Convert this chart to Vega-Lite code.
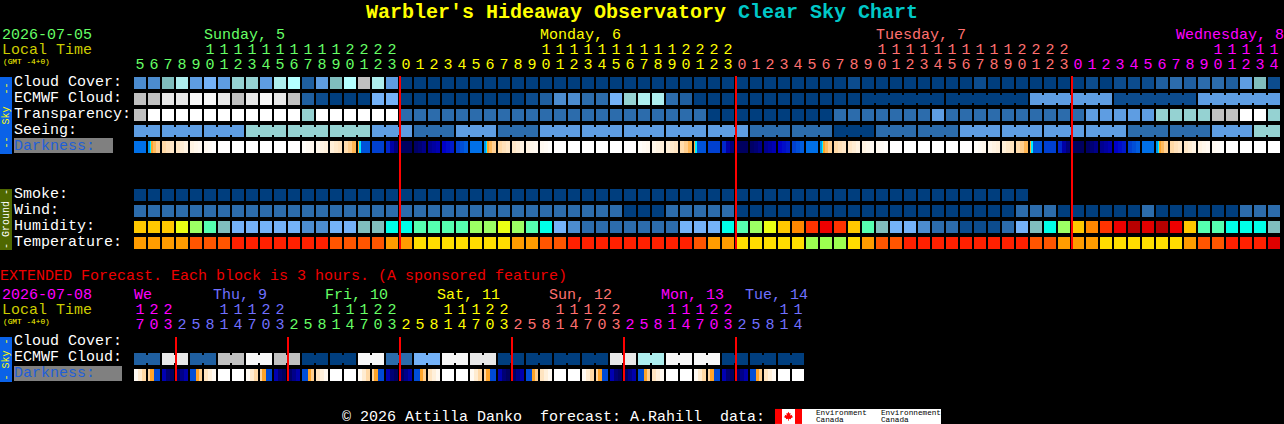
{"$schema":"https://vega.github.io/schema/vega-lite/v6.json","autosize":{"type":"none","contains":"padding"},"padding":0,"width":1284,"height":424,"background":"#000000","config":{"view":{"stroke":null},"axis":{"disable":true},"legend":{"disable":true}},
"datasets":{
"cells":[
{"h":0,"row":0,"lv":"e"},{"h":1,"row":0,"lv":"e"},{"h":2,"row":0,"lv":"h"},{"h":3,"row":0,"lv":"j"},{"h":4,"row":0,"lv":"f"},{"h":5,"row":0,"lv":"g"},{"h":6,"row":0,"lv":"f"},{"h":7,"row":0,"lv":"i"},{"h":8,"row":0,"lv":"i"},{"h":9,"row":0,"lv":"f"},{"h":10,"row":0,"lv":"j"},{"h":11,"row":0,"lv":"k"},{"h":12,"row":0,"lv":"c"},{"h":13,"row":0,"lv":"f"},{"h":14,"row":0,"lv":"h"},{"h":15,"row":0,"lv":"k"},{"h":16,"row":0,"lv":"l"},{"h":17,"row":0,"lv":"j"},{"h":18,"row":0,"lv":"f"},{"h":19,"row":0,"lv":"a"},{"h":20,"row":0,"lv":"a"},{"h":21,"row":0,"lv":"a"},{"h":22,"row":0,"lv":"a"},{"h":23,"row":0,"lv":"a"},{"h":24,"row":0,"lv":"a"},{"h":25,"row":0,"lv":"a"},{"h":26,"row":0,"lv":"a"},{"h":27,"row":0,"lv":"a"},{"h":28,"row":0,"lv":"a"},{"h":29,"row":0,"lv":"a"},{"h":30,"row":0,"lv":"a"},{"h":31,"row":0,"lv":"a"},{"h":32,"row":0,"lv":"a"},{"h":33,"row":0,"lv":"a"},{"h":34,"row":0,"lv":"a"},{"h":35,"row":0,"lv":"a"},{"h":36,"row":0,"lv":"a"},{"h":37,"row":0,"lv":"a"},{"h":38,"row":0,"lv":"a"},{"h":39,"row":0,"lv":"a"},{"h":40,"row":0,"lv":"a"},{"h":41,"row":0,"lv":"a"},{"h":42,"row":0,"lv":"a"},{"h":43,"row":0,"lv":"a"},{"h":44,"row":0,"lv":"a"},{"h":45,"row":0,"lv":"a"},{"h":46,"row":0,"lv":"a"},{"h":47,"row":0,"lv":"a"},{"h":48,"row":0,"lv":"a"},{"h":49,"row":0,"lv":"a"},{"h":50,"row":0,"lv":"a"},{"h":51,"row":0,"lv":"b"},{"h":52,"row":0,"lv":"a"},{"h":53,"row":0,"lv":"a"},{"h":54,"row":0,"lv":"a"},{"h":55,"row":0,"lv":"a"},{"h":56,"row":0,"lv":"a"},{"h":57,"row":0,"lv":"a"},{"h":58,"row":0,"lv":"a"},{"h":59,"row":0,"lv":"a"},{"h":60,"row":0,"lv":"b"},{"h":61,"row":0,"lv":"a"},{"h":62,"row":0,"lv":"a"},{"h":63,"row":0,"lv":"a"},{"h":64,"row":0,"lv":"a"},{"h":65,"row":0,"lv":"a"},{"h":66,"row":0,"lv":"a"},{"h":67,"row":0,"lv":"a"},{"h":68,"row":0,"lv":"b"},{"h":69,"row":0,"lv":"a"},{"h":70,"row":0,"lv":"b"},{"h":71,"row":0,"lv":"b"},{"h":72,"row":0,"lv":"b"},{"h":73,"row":0,"lv":"c"},{"h":74,"row":0,"lv":"d"},{"h":75,"row":0,"lv":"c"},{"h":76,"row":0,"lv":"d"},{"h":77,"row":0,"lv":"d"},{"h":78,"row":0,"lv":"c"},{"h":79,"row":0,"lv":"f"},{"h":80,"row":0,"lv":"h"},{"h":81,"row":0,"lv":"b"},
{"h":0,"row":1,"lv":"l"},{"h":1,"row":1,"lv":"l"},{"h":2,"row":1,"lv":"m"},{"h":3,"row":1,"lv":"m"},{"h":4,"row":1,"lv":"n"},{"h":5,"row":1,"lv":"n"},{"h":6,"row":1,"lv":"m"},{"h":7,"row":1,"lv":"l"},{"h":8,"row":1,"lv":"m"},{"h":9,"row":1,"lv":"n"},{"h":10,"row":1,"lv":"m"},{"h":11,"row":1,"lv":"l"},{"h":12,"row":1,"lv":"c"},{"h":13,"row":1,"lv":"b"},{"h":14,"row":1,"lv":"a"},{"h":15,"row":1,"lv":"a"},{"h":16,"row":1,"lv":"a"},{"h":17,"row":1,"lv":"g"},{"h":18,"row":1,"lv":"g"},{"h":19,"row":1,"lv":"a"},{"h":20,"row":1,"lv":"a"},{"h":21,"row":1,"lv":"a"},{"h":22,"row":1,"lv":"a"},{"h":23,"row":1,"lv":"a"},{"h":24,"row":1,"lv":"a"},{"h":25,"row":1,"lv":"a"},{"h":26,"row":1,"lv":"a"},{"h":27,"row":1,"lv":"a"},{"h":28,"row":1,"lv":"b"},{"h":29,"row":1,"lv":"c"},{"h":30,"row":1,"lv":"e"},{"h":31,"row":1,"lv":"e"},{"h":32,"row":1,"lv":"d"},{"h":33,"row":1,"lv":"d"},{"h":34,"row":1,"lv":"g"},{"h":35,"row":1,"lv":"i"},{"h":36,"row":1,"lv":"j"},{"h":37,"row":1,"lv":"j"},{"h":38,"row":1,"lv":"d"},{"h":39,"row":1,"lv":"c"},{"h":40,"row":1,"lv":"a"},{"h":41,"row":1,"lv":"a"},{"h":42,"row":1,"lv":"a"},{"h":43,"row":1,"lv":"a"},{"h":44,"row":1,"lv":"a"},{"h":45,"row":1,"lv":"a"},{"h":46,"row":1,"lv":"a"},{"h":47,"row":1,"lv":"a"},{"h":48,"row":1,"lv":"a"},{"h":49,"row":1,"lv":"a"},{"h":50,"row":1,"lv":"a"},{"h":51,"row":1,"lv":"a"},{"h":52,"row":1,"lv":"a"},{"h":53,"row":1,"lv":"a"},{"h":54,"row":1,"lv":"a"},{"h":55,"row":1,"lv":"a"},{"h":56,"row":1,"lv":"a"},{"h":57,"row":1,"lv":"a"},{"h":58,"row":1,"lv":"a"},{"h":59,"row":1,"lv":"a"},{"h":60,"row":1,"lv":"a"},{"h":61,"row":1,"lv":"a"},{"h":62,"row":1,"lv":"a"},{"h":63,"row":1,"lv":"a"},{"h":64,"row":1,"lv":"f"},{"h":65,"row":1,"lv":"f"},{"h":66,"row":1,"lv":"f"},{"h":67,"row":1,"lv":"f"},{"h":68,"row":1,"lv":"f"},{"h":69,"row":1,"lv":"f"},{"h":70,"row":1,"lv":"b"},{"h":71,"row":1,"lv":"b"},{"h":72,"row":1,"lv":"b"},{"h":73,"row":1,"lv":"b"},{"h":74,"row":1,"lv":"b"},{"h":75,"row":1,"lv":"b"},{"h":76,"row":1,"lv":"f"},{"h":77,"row":1,"lv":"f"},{"h":78,"row":1,"lv":"f"},{"h":79,"row":1,"lv":"f"},{"h":80,"row":1,"lv":"f"},{"h":81,"row":1,"lv":"f"},
{"h":0,"row":2,"lv":"l"},{"h":1,"row":2,"lv":"o"},{"h":2,"row":2,"lv":"o"},{"h":3,"row":2,"lv":"o"},{"h":4,"row":2,"lv":"o"},{"h":5,"row":2,"lv":"o"},{"h":6,"row":2,"lv":"o"},{"h":7,"row":2,"lv":"o"},{"h":8,"row":2,"lv":"o"},{"h":9,"row":2,"lv":"o"},{"h":10,"row":2,"lv":"o"},{"h":11,"row":2,"lv":"o"},{"h":12,"row":2,"lv":"i"},{"h":13,"row":2,"lv":"o"},{"h":14,"row":2,"lv":"o"},{"h":15,"row":2,"lv":"o"},{"h":16,"row":2,"lv":"o"},{"h":17,"row":2,"lv":"o"},{"h":18,"row":2,"lv":"o"},{"h":19,"row":2,"lv":"d"},{"h":20,"row":2,"lv":"d"},{"h":21,"row":2,"lv":"d"},{"h":22,"row":2,"lv":"d"},{"h":23,"row":2,"lv":"d"},{"h":24,"row":2,"lv":"d"},{"h":25,"row":2,"lv":"d"},{"h":26,"row":2,"lv":"d"},{"h":27,"row":2,"lv":"d"},{"h":28,"row":2,"lv":"d"},{"h":29,"row":2,"lv":"d"},{"h":30,"row":2,"lv":"d"},{"h":31,"row":2,"lv":"d"},{"h":32,"row":2,"lv":"d"},{"h":33,"row":2,"lv":"d"},{"h":34,"row":2,"lv":"d"},{"h":35,"row":2,"lv":"d"},{"h":36,"row":2,"lv":"d"},{"h":37,"row":2,"lv":"d"},{"h":38,"row":2,"lv":"d"},{"h":39,"row":2,"lv":"d"},{"h":40,"row":2,"lv":"d"},{"h":41,"row":2,"lv":"a"},{"h":42,"row":2,"lv":"a"},{"h":43,"row":2,"lv":"a"},{"h":44,"row":2,"lv":"a"},{"h":45,"row":2,"lv":"a"},{"h":46,"row":2,"lv":"a"},{"h":47,"row":2,"lv":"a"},{"h":48,"row":2,"lv":"a"},{"h":49,"row":2,"lv":"a"},{"h":50,"row":2,"lv":"d"},{"h":51,"row":2,"lv":"d"},{"h":52,"row":2,"lv":"d"},{"h":53,"row":2,"lv":"d"},{"h":54,"row":2,"lv":"d"},{"h":55,"row":2,"lv":"d"},{"h":56,"row":2,"lv":"d"},{"h":57,"row":2,"lv":"f"},{"h":58,"row":2,"lv":"d"},{"h":59,"row":2,"lv":"d"},{"h":60,"row":2,"lv":"d"},{"h":61,"row":2,"lv":"d"},{"h":62,"row":2,"lv":"d"},{"h":63,"row":2,"lv":"d"},{"h":64,"row":2,"lv":"d"},{"h":65,"row":2,"lv":"d"},{"h":66,"row":2,"lv":"d"},{"h":67,"row":2,"lv":"d"},{"h":68,"row":2,"lv":"f"},{"h":69,"row":2,"lv":"f"},{"h":70,"row":2,"lv":"f"},{"h":71,"row":2,"lv":"f"},{"h":72,"row":2,"lv":"f"},{"h":73,"row":2,"lv":"i"},{"h":74,"row":2,"lv":"i"},{"h":75,"row":2,"lv":"i"},{"h":76,"row":2,"lv":"i"},{"h":77,"row":2,"lv":"l"},{"h":78,"row":2,"lv":"l"},{"h":79,"row":2,"lv":"o"},{"h":80,"row":2,"lv":"o"},{"h":81,"row":2,"lv":"i"},
{"h":0,"row":3,"lv":"f"},{"h":1,"row":3,"lv":"f"},{"h":2,"row":3,"lv":"f"},{"h":3,"row":3,"lv":"f"},{"h":4,"row":3,"lv":"f"},{"h":5,"row":3,"lv":"f"},{"h":6,"row":3,"lv":"f"},{"h":7,"row":3,"lv":"f"},{"h":8,"row":3,"lv":"i"},{"h":9,"row":3,"lv":"i"},{"h":10,"row":3,"lv":"i"},{"h":11,"row":3,"lv":"i"},{"h":12,"row":3,"lv":"i"},{"h":13,"row":3,"lv":"i"},{"h":14,"row":3,"lv":"i"},{"h":15,"row":3,"lv":"i"},{"h":16,"row":3,"lv":"i"},{"h":17,"row":3,"lv":"f"},{"h":18,"row":3,"lv":"f"},{"h":19,"row":3,"lv":"f"},{"h":20,"row":3,"lv":"d"},{"h":21,"row":3,"lv":"d"},{"h":22,"row":3,"lv":"d"},{"h":23,"row":3,"lv":"f"},{"h":24,"row":3,"lv":"f"},{"h":25,"row":3,"lv":"f"},{"h":26,"row":3,"lv":"d"},{"h":27,"row":3,"lv":"d"},{"h":28,"row":3,"lv":"d"},{"h":29,"row":3,"lv":"f"},{"h":30,"row":3,"lv":"f"},{"h":31,"row":3,"lv":"f"},{"h":32,"row":3,"lv":"f"},{"h":33,"row":3,"lv":"f"},{"h":34,"row":3,"lv":"f"},{"h":35,"row":3,"lv":"f"},{"h":36,"row":3,"lv":"f"},{"h":37,"row":3,"lv":"f"},{"h":38,"row":3,"lv":"f"},{"h":39,"row":3,"lv":"f"},{"h":40,"row":3,"lv":"f"},{"h":41,"row":3,"lv":"f"},{"h":42,"row":3,"lv":"f"},{"h":43,"row":3,"lv":"f"},{"h":44,"row":3,"lv":"d"},{"h":45,"row":3,"lv":"d"},{"h":46,"row":3,"lv":"d"},{"h":47,"row":3,"lv":"d"},{"h":48,"row":3,"lv":"d"},{"h":49,"row":3,"lv":"d"},{"h":50,"row":3,"lv":"a"},{"h":51,"row":3,"lv":"a"},{"h":52,"row":3,"lv":"a"},{"h":53,"row":3,"lv":"d"},{"h":54,"row":3,"lv":"d"},{"h":55,"row":3,"lv":"d"},{"h":56,"row":3,"lv":"d"},{"h":57,"row":3,"lv":"d"},{"h":58,"row":3,"lv":"d"},{"h":59,"row":3,"lv":"f"},{"h":60,"row":3,"lv":"f"},{"h":61,"row":3,"lv":"f"},{"h":62,"row":3,"lv":"f"},{"h":63,"row":3,"lv":"f"},{"h":64,"row":3,"lv":"f"},{"h":65,"row":3,"lv":"f"},{"h":66,"row":3,"lv":"f"},{"h":67,"row":3,"lv":"f"},{"h":68,"row":3,"lv":"f"},{"h":69,"row":3,"lv":"f"},{"h":70,"row":3,"lv":"f"},{"h":71,"row":3,"lv":"d"},{"h":72,"row":3,"lv":"d"},{"h":73,"row":3,"lv":"d"},{"h":74,"row":3,"lv":"d"},{"h":75,"row":3,"lv":"d"},{"h":76,"row":3,"lv":"d"},{"h":77,"row":3,"lv":"f"},{"h":78,"row":3,"lv":"f"},{"h":79,"row":3,"lv":"f"},{"h":80,"row":3,"lv":"i"},{"h":81,"row":3,"lv":"i"},
{"h":0,"row":7,"lv":"a"},{"h":1,"row":7,"lv":"a"},{"h":2,"row":7,"lv":"a"},{"h":3,"row":7,"lv":"a"},{"h":4,"row":7,"lv":"a"},{"h":5,"row":7,"lv":"a"},{"h":6,"row":7,"lv":"a"},{"h":7,"row":7,"lv":"a"},{"h":8,"row":7,"lv":"a"},{"h":9,"row":7,"lv":"a"},{"h":10,"row":7,"lv":"a"},{"h":11,"row":7,"lv":"a"},{"h":12,"row":7,"lv":"a"},{"h":13,"row":7,"lv":"a"},{"h":14,"row":7,"lv":"a"},{"h":15,"row":7,"lv":"a"},{"h":16,"row":7,"lv":"a"},{"h":17,"row":7,"lv":"a"},{"h":18,"row":7,"lv":"a"},{"h":19,"row":7,"lv":"a"},{"h":20,"row":7,"lv":"a"},{"h":21,"row":7,"lv":"a"},{"h":22,"row":7,"lv":"a"},{"h":23,"row":7,"lv":"a"},{"h":24,"row":7,"lv":"a"},{"h":25,"row":7,"lv":"a"},{"h":26,"row":7,"lv":"a"},{"h":27,"row":7,"lv":"a"},{"h":28,"row":7,"lv":"a"},{"h":29,"row":7,"lv":"a"},{"h":30,"row":7,"lv":"a"},{"h":31,"row":7,"lv":"a"},{"h":32,"row":7,"lv":"a"},{"h":33,"row":7,"lv":"a"},{"h":34,"row":7,"lv":"a"},{"h":35,"row":7,"lv":"a"},{"h":36,"row":7,"lv":"a"},{"h":37,"row":7,"lv":"a"},{"h":38,"row":7,"lv":"a"},{"h":39,"row":7,"lv":"a"},{"h":40,"row":7,"lv":"a"},{"h":41,"row":7,"lv":"a"},{"h":42,"row":7,"lv":"a"},{"h":43,"row":7,"lv":"a"},{"h":44,"row":7,"lv":"a"},{"h":45,"row":7,"lv":"a"},{"h":46,"row":7,"lv":"a"},{"h":47,"row":7,"lv":"a"},{"h":48,"row":7,"lv":"a"},{"h":49,"row":7,"lv":"a"},{"h":50,"row":7,"lv":"a"},{"h":51,"row":7,"lv":"a"},{"h":52,"row":7,"lv":"a"},{"h":53,"row":7,"lv":"a"},{"h":54,"row":7,"lv":"a"},{"h":55,"row":7,"lv":"a"},{"h":56,"row":7,"lv":"a"},{"h":57,"row":7,"lv":"a"},{"h":58,"row":7,"lv":"a"},{"h":59,"row":7,"lv":"a"},{"h":60,"row":7,"lv":"a"},{"h":61,"row":7,"lv":"a"},{"h":62,"row":7,"lv":"a"},{"h":63,"row":7,"lv":"a"},
{"h":0,"row":8,"lv":"d"},{"h":1,"row":8,"lv":"d"},{"h":2,"row":8,"lv":"d"},{"h":3,"row":8,"lv":"d"},{"h":4,"row":8,"lv":"d"},{"h":5,"row":8,"lv":"d"},{"h":6,"row":8,"lv":"d"},{"h":7,"row":8,"lv":"d"},{"h":8,"row":8,"lv":"d"},{"h":9,"row":8,"lv":"d"},{"h":10,"row":8,"lv":"d"},{"h":11,"row":8,"lv":"d"},{"h":12,"row":8,"lv":"d"},{"h":13,"row":8,"lv":"d"},{"h":14,"row":8,"lv":"d"},{"h":15,"row":8,"lv":"d"},{"h":16,"row":8,"lv":"d"},{"h":17,"row":8,"lv":"d"},{"h":18,"row":8,"lv":"d"},{"h":19,"row":8,"lv":"d"},{"h":20,"row":8,"lv":"d"},{"h":21,"row":8,"lv":"d"},{"h":22,"row":8,"lv":"d"},{"h":23,"row":8,"lv":"d"},{"h":24,"row":8,"lv":"d"},{"h":25,"row":8,"lv":"d"},{"h":26,"row":8,"lv":"d"},{"h":27,"row":8,"lv":"d"},{"h":28,"row":8,"lv":"d"},{"h":29,"row":8,"lv":"d"},{"h":30,"row":8,"lv":"d"},{"h":31,"row":8,"lv":"d"},{"h":32,"row":8,"lv":"d"},{"h":33,"row":8,"lv":"d"},{"h":34,"row":8,"lv":"d"},{"h":35,"row":8,"lv":"a"},{"h":36,"row":8,"lv":"a"},{"h":37,"row":8,"lv":"a"},{"h":38,"row":8,"lv":"d"},{"h":39,"row":8,"lv":"d"},{"h":40,"row":8,"lv":"d"},{"h":41,"row":8,"lv":"d"},{"h":42,"row":8,"lv":"d"},{"h":43,"row":8,"lv":"a"},{"h":44,"row":8,"lv":"a"},{"h":45,"row":8,"lv":"a"},{"h":46,"row":8,"lv":"a"},{"h":47,"row":8,"lv":"a"},{"h":48,"row":8,"lv":"a"},{"h":49,"row":8,"lv":"a"},{"h":50,"row":8,"lv":"a"},{"h":51,"row":8,"lv":"a"},{"h":52,"row":8,"lv":"a"},{"h":53,"row":8,"lv":"a"},{"h":54,"row":8,"lv":"a"},{"h":55,"row":8,"lv":"a"},{"h":56,"row":8,"lv":"a"},{"h":57,"row":8,"lv":"a"},{"h":58,"row":8,"lv":"a"},{"h":59,"row":8,"lv":"a"},{"h":60,"row":8,"lv":"a"},{"h":61,"row":8,"lv":"a"},{"h":62,"row":8,"lv":"a"},{"h":63,"row":8,"lv":"d"},{"h":64,"row":8,"lv":"d"},{"h":65,"row":8,"lv":"d"},{"h":66,"row":8,"lv":"a"},{"h":67,"row":8,"lv":"a"},{"h":68,"row":8,"lv":"a"},{"h":69,"row":8,"lv":"a"},{"h":70,"row":8,"lv":"a"},{"h":71,"row":8,"lv":"a"},{"h":72,"row":8,"lv":"d"},{"h":73,"row":8,"lv":"a"},{"h":74,"row":8,"lv":"a"},{"h":75,"row":8,"lv":"a"},{"h":76,"row":8,"lv":"a"},{"h":77,"row":8,"lv":"a"},{"h":78,"row":8,"lv":"a"},{"h":79,"row":8,"lv":"d"},{"h":80,"row":8,"lv":"d"},{"h":81,"row":8,"lv":"d"},
{"h":0,"row":9,"lv":"p"},{"h":1,"row":9,"lv":"p"},{"h":2,"row":9,"lv":"p"},{"h":3,"row":9,"lv":"q"},{"h":4,"row":9,"lv":"r"},{"h":5,"row":9,"lv":"s"},{"h":6,"row":9,"lv":"h"},{"h":7,"row":9,"lv":"g"},{"h":8,"row":9,"lv":"g"},{"h":9,"row":9,"lv":"g"},{"h":10,"row":9,"lv":"g"},{"h":11,"row":9,"lv":"g"},{"h":12,"row":9,"lv":"e"},{"h":13,"row":9,"lv":"e"},{"h":14,"row":9,"lv":"g"},{"h":15,"row":9,"lv":"g"},{"h":16,"row":9,"lv":"h"},{"h":17,"row":9,"lv":"h"},{"h":18,"row":9,"lv":"t"},{"h":19,"row":9,"lv":"t"},{"h":20,"row":9,"lv":"s"},{"h":21,"row":9,"lv":"s"},{"h":22,"row":9,"lv":"s"},{"h":23,"row":9,"lv":"s"},{"h":24,"row":9,"lv":"r"},{"h":25,"row":9,"lv":"r"},{"h":26,"row":9,"lv":"q"},{"h":27,"row":9,"lv":"r"},{"h":28,"row":9,"lv":"s"},{"h":29,"row":9,"lv":"t"},{"h":30,"row":9,"lv":"g"},{"h":31,"row":9,"lv":"e"},{"h":32,"row":9,"lv":"d"},{"h":33,"row":9,"lv":"d"},{"h":34,"row":9,"lv":"d"},{"h":35,"row":9,"lv":"d"},{"h":36,"row":9,"lv":"d"},{"h":37,"row":9,"lv":"d"},{"h":38,"row":9,"lv":"d"},{"h":39,"row":9,"lv":"g"},{"h":40,"row":9,"lv":"g"},{"h":41,"row":9,"lv":"g"},{"h":42,"row":9,"lv":"t"},{"h":43,"row":9,"lv":"s"},{"h":44,"row":9,"lv":"r"},{"h":45,"row":9,"lv":"q"},{"h":46,"row":9,"lv":"p"},{"h":47,"row":9,"lv":"u"},{"h":48,"row":9,"lv":"v"},{"h":49,"row":9,"lv":"w"},{"h":50,"row":9,"lv":"v"},{"h":51,"row":9,"lv":"p"},{"h":52,"row":9,"lv":"s"},{"h":53,"row":9,"lv":"h"},{"h":54,"row":9,"lv":"g"},{"h":55,"row":9,"lv":"g"},{"h":56,"row":9,"lv":"e"},{"h":57,"row":9,"lv":"d"},{"h":58,"row":9,"lv":"d"},{"h":59,"row":9,"lv":"b"},{"h":60,"row":9,"lv":"b"},{"h":61,"row":9,"lv":"b"},{"h":62,"row":9,"lv":"d"},{"h":63,"row":9,"lv":"g"},{"h":64,"row":9,"lv":"h"},{"h":65,"row":9,"lv":"t"},{"h":66,"row":9,"lv":"r"},{"h":67,"row":9,"lv":"p"},{"h":68,"row":9,"lv":"u"},{"h":69,"row":9,"lv":"v"},{"h":70,"row":9,"lv":"w"},{"h":71,"row":9,"lv":"x"},{"h":72,"row":9,"lv":"F"},{"h":73,"row":9,"lv":"x"},{"h":74,"row":9,"lv":"w"},{"h":75,"row":9,"lv":"p"},{"h":76,"row":9,"lv":"s"},{"h":77,"row":9,"lv":"s"},{"h":78,"row":9,"lv":"t"},{"h":79,"row":9,"lv":"t"},{"h":80,"row":9,"lv":"t"},{"h":81,"row":9,"lv":"h"},
{"h":0,"row":10,"lv":"A"},{"h":1,"row":10,"lv":"A"},{"h":2,"row":10,"lv":"A"},{"h":3,"row":10,"lv":"A"},{"h":4,"row":10,"lv":"B"},{"h":5,"row":10,"lv":"B"},{"h":6,"row":10,"lv":"B"},{"h":7,"row":10,"lv":"C"},{"h":8,"row":10,"lv":"C"},{"h":9,"row":10,"lv":"C"},{"h":10,"row":10,"lv":"C"},{"h":11,"row":10,"lv":"C"},{"h":12,"row":10,"lv":"C"},{"h":13,"row":10,"lv":"C"},{"h":14,"row":10,"lv":"B"},{"h":15,"row":10,"lv":"B"},{"h":16,"row":10,"lv":"B"},{"h":17,"row":10,"lv":"B"},{"h":18,"row":10,"lv":"A"},{"h":19,"row":10,"lv":"A"},{"h":20,"row":10,"lv":"D"},{"h":21,"row":10,"lv":"D"},{"h":22,"row":10,"lv":"D"},{"h":23,"row":10,"lv":"D"},{"h":24,"row":10,"lv":"D"},{"h":25,"row":10,"lv":"D"},{"h":26,"row":10,"lv":"D"},{"h":27,"row":10,"lv":"A"},{"h":28,"row":10,"lv":"A"},{"h":29,"row":10,"lv":"B"},{"h":30,"row":10,"lv":"B"},{"h":31,"row":10,"lv":"C"},{"h":32,"row":10,"lv":"C"},{"h":33,"row":10,"lv":"C"},{"h":34,"row":10,"lv":"C"},{"h":35,"row":10,"lv":"C"},{"h":36,"row":10,"lv":"C"},{"h":37,"row":10,"lv":"C"},{"h":38,"row":10,"lv":"C"},{"h":39,"row":10,"lv":"C"},{"h":40,"row":10,"lv":"B"},{"h":41,"row":10,"lv":"A"},{"h":42,"row":10,"lv":"A"},{"h":43,"row":10,"lv":"D"},{"h":44,"row":10,"lv":"D"},{"h":45,"row":10,"lv":"D"},{"h":46,"row":10,"lv":"D"},{"h":47,"row":10,"lv":"D"},{"h":48,"row":10,"lv":"E"},{"h":49,"row":10,"lv":"E"},{"h":50,"row":10,"lv":"E"},{"h":51,"row":10,"lv":"D"},{"h":52,"row":10,"lv":"A"},{"h":53,"row":10,"lv":"B"},{"h":54,"row":10,"lv":"B"},{"h":55,"row":10,"lv":"C"},{"h":56,"row":10,"lv":"C"},{"h":57,"row":10,"lv":"C"},{"h":58,"row":10,"lv":"C"},{"h":59,"row":10,"lv":"C"},{"h":60,"row":10,"lv":"C"},{"h":61,"row":10,"lv":"C"},{"h":62,"row":10,"lv":"C"},{"h":63,"row":10,"lv":"C"},{"h":64,"row":10,"lv":"B"},{"h":65,"row":10,"lv":"B"},{"h":66,"row":10,"lv":"A"},{"h":67,"row":10,"lv":"A"},{"h":68,"row":10,"lv":"A"},{"h":69,"row":10,"lv":"D"},{"h":70,"row":10,"lv":"D"},{"h":71,"row":10,"lv":"D"},{"h":72,"row":10,"lv":"D"},{"h":73,"row":10,"lv":"D"},{"h":74,"row":10,"lv":"D"},{"h":75,"row":10,"lv":"A"},{"h":76,"row":10,"lv":"B"},{"h":77,"row":10,"lv":"B"},{"h":78,"row":10,"lv":"C"},{"h":79,"row":10,"lv":"C"},{"h":80,"row":10,"lv":"C"},{"h":81,"row":10,"lv":"F"},
{"h":0,"row":17.25,"lv":"c"},{"h":1,"row":17.25,"lv":"c"},{"h":2,"row":17.25,"lv":"m"},{"h":3,"row":17.25,"lv":"m"},{"h":4,"row":17.25,"lv":"c"},{"h":5,"row":17.25,"lv":"c"},{"h":6,"row":17.25,"lv":"l"},{"h":7,"row":17.25,"lv":"l"},{"h":8,"row":17.25,"lv":"n"},{"h":9,"row":17.25,"lv":"n"},{"h":10,"row":17.25,"lv":"l"},{"h":11,"row":17.25,"lv":"l"},{"h":12,"row":17.25,"lv":"a"},{"h":13,"row":17.25,"lv":"a"},{"h":14,"row":17.25,"lv":"a"},{"h":15,"row":17.25,"lv":"a"},{"h":16,"row":17.25,"lv":"n"},{"h":17,"row":17.25,"lv":"n"},{"h":18,"row":17.25,"lv":"d"},{"h":19,"row":17.25,"lv":"d"},{"h":20,"row":17.25,"lv":"g"},{"h":21,"row":17.25,"lv":"g"},{"h":22,"row":17.25,"lv":"n"},{"h":23,"row":17.25,"lv":"n"},{"h":24,"row":17.25,"lv":"m"},{"h":25,"row":17.25,"lv":"m"},{"h":26,"row":17.25,"lv":"a"},{"h":27,"row":17.25,"lv":"a"},{"h":28,"row":17.25,"lv":"a"},{"h":29,"row":17.25,"lv":"a"},{"h":30,"row":17.25,"lv":"a"},{"h":31,"row":17.25,"lv":"a"},{"h":32,"row":17.25,"lv":"a"},{"h":33,"row":17.25,"lv":"a"},{"h":34,"row":17.25,"lv":"m"},{"h":35,"row":17.25,"lv":"m"},{"h":36,"row":17.25,"lv":"j"},{"h":37,"row":17.25,"lv":"j"},{"h":38,"row":17.25,"lv":"n"},{"h":39,"row":17.25,"lv":"n"},{"h":40,"row":17.25,"lv":"n"},{"h":41,"row":17.25,"lv":"n"},{"h":42,"row":17.25,"lv":"a"},{"h":43,"row":17.25,"lv":"a"},{"h":44,"row":17.25,"lv":"a"},{"h":45,"row":17.25,"lv":"a"},{"h":46,"row":17.25,"lv":"a"},{"h":47,"row":17.25,"lv":"a"}
],
"blocks":[
{"h":52,"h2":57,"row":1,"lv":"a"},{"h":58,"h2":63,"row":1,"lv":"a"},{"h":64,"h2":69,"row":1,"lv":"f"},{"h":70,"h2":75,"row":1,"lv":"b"},{"h":76,"h2":81,"row":1,"lv":"f"},
{"h":0,"h2":1,"row":3,"lv":"f"},{"h":2,"h2":4,"row":3,"lv":"f"},{"h":5,"h2":7,"row":3,"lv":"f"},{"h":8,"h2":10,"row":3,"lv":"i"},{"h":11,"h2":13,"row":3,"lv":"i"},{"h":14,"h2":16,"row":3,"lv":"i"},{"h":17,"h2":19,"row":3,"lv":"f"},{"h":20,"h2":22,"row":3,"lv":"d"},{"h":23,"h2":25,"row":3,"lv":"f"},{"h":26,"h2":28,"row":3,"lv":"d"},{"h":29,"h2":31,"row":3,"lv":"f"},{"h":32,"h2":34,"row":3,"lv":"f"},{"h":35,"h2":37,"row":3,"lv":"f"},{"h":38,"h2":40,"row":3,"lv":"f"},{"h":41,"h2":43,"row":3,"lv":"f"},{"h":44,"h2":46,"row":3,"lv":"d"},{"h":47,"h2":49,"row":3,"lv":"d"},{"h":50,"h2":52,"row":3,"lv":"a"},{"h":53,"h2":55,"row":3,"lv":"d"},{"h":56,"h2":58,"row":3,"lv":"d"},{"h":59,"h2":61,"row":3,"lv":"f"},{"h":62,"h2":64,"row":3,"lv":"f"},{"h":65,"h2":67,"row":3,"lv":"f"},{"h":68,"h2":70,"row":3,"lv":"f"},{"h":71,"h2":73,"row":3,"lv":"d"},{"h":74,"h2":76,"row":3,"lv":"d"},{"h":77,"h2":79,"row":3,"lv":"f"},{"h":80,"h2":81,"row":3,"lv":"i"},
{"h":0,"h2":1,"row":17.25,"lv":"c"},{"h":2,"h2":3,"row":17.25,"lv":"m"},{"h":4,"h2":5,"row":17.25,"lv":"c"},{"h":6,"h2":7,"row":17.25,"lv":"l"},{"h":8,"h2":9,"row":17.25,"lv":"n"},{"h":10,"h2":11,"row":17.25,"lv":"l"},{"h":12,"h2":13,"row":17.25,"lv":"a"},{"h":14,"h2":15,"row":17.25,"lv":"a"},{"h":16,"h2":17,"row":17.25,"lv":"n"},{"h":18,"h2":19,"row":17.25,"lv":"d"},{"h":20,"h2":21,"row":17.25,"lv":"g"},{"h":22,"h2":23,"row":17.25,"lv":"n"},{"h":24,"h2":25,"row":17.25,"lv":"m"},{"h":26,"h2":27,"row":17.25,"lv":"a"},{"h":28,"h2":29,"row":17.25,"lv":"a"},{"h":30,"h2":31,"row":17.25,"lv":"a"},{"h":32,"h2":33,"row":17.25,"lv":"a"},{"h":34,"h2":35,"row":17.25,"lv":"m"},{"h":36,"h2":37,"row":17.25,"lv":"j"},{"h":38,"h2":39,"row":17.25,"lv":"n"},{"h":40,"h2":41,"row":17.25,"lv":"n"},{"h":42,"h2":43,"row":17.25,"lv":"a"},{"h":44,"h2":45,"row":17.25,"lv":"a"},{"h":46,"h2":47,"row":17.25,"lv":"a"}
],
"darkSolid":[
{"h":0,"row":4,"d":4},{"h":6,"row":4,"d":9.95},{"h":7,"row":4,"d":10},{"h":8,"row":4,"d":10},{"h":9,"row":4,"d":10},{"h":10,"row":4,"d":10},{"h":11,"row":4,"d":9.95},{"h":17,"row":4,"d":3},{"h":19,"row":4,"d":0.3},{"h":24,"row":4,"d":4},{"h":30,"row":4,"d":9.95},{"h":31,"row":4,"d":10},{"h":32,"row":4,"d":10},{"h":33,"row":4,"d":10},{"h":34,"row":4,"d":10},{"h":35,"row":4,"d":9.95},{"h":41,"row":4,"d":3},{"h":43,"row":4,"d":0.3},{"h":48,"row":4,"d":4},{"h":54,"row":4,"d":9.95},{"h":55,"row":4,"d":10},{"h":56,"row":4,"d":10},{"h":57,"row":4,"d":10},{"h":58,"row":4,"d":10},{"h":59,"row":4,"d":9.95},{"h":65,"row":4,"d":3},{"h":67,"row":4,"d":0.3},{"h":72,"row":4,"d":4},{"h":78,"row":4,"d":9.95},{"h":79,"row":4,"d":10},{"h":80,"row":4,"d":10},{"h":81,"row":4,"d":10},
{"h":6,"row":18.25,"d":10},{"h":7,"row":18.25,"d":10},{"h":14,"row":18.25,"d":10},{"h":15,"row":18.25,"d":10},{"h":22,"row":18.25,"d":10},{"h":23,"row":18.25,"d":10},{"h":30,"row":18.25,"d":10},{"h":31,"row":18.25,"d":10},{"h":38,"row":18.25,"d":10},{"h":39,"row":18.25,"d":10},{"h":46,"row":18.25,"d":10},{"h":47,"row":18.25,"d":10}
],
"darkSpans":[
{"h":1.5714,"h2":1.8571,"row":4,"d":7.6},{"h":1.8571,"h2":2.1429,"row":4,"d":7.9},{"h":2.1429,"h2":2.4286,"row":4,"d":8.2},{"h":2.5714,"h2":2.8571,"row":4,"d":8.2},{"h":2.8571,"h2":3.1429,"row":4,"d":8.6},{"h":3.1429,"h2":3.4286,"row":4,"d":9},{"h":3.5714,"h2":3.8571,"row":4,"d":9},{"h":3.8571,"h2":4.1429,"row":4,"d":9.3},{"h":4.1429,"h2":4.4286,"row":4,"d":9.5},{"h":4.5714,"h2":4.8571,"row":4,"d":9.5},{"h":4.8571,"h2":5.1429,"row":4,"d":9.7},{"h":5.1429,"h2":5.4286,"row":4,"d":9.9},
{"h":11.5714,"h2":11.8571,"row":4,"d":9.8},{"h":11.8571,"h2":12.1429,"row":4,"d":9.6},{"h":12.1429,"h2":12.4286,"row":4,"d":9.4},{"h":12.5714,"h2":12.8571,"row":4,"d":9.3},{"h":12.8571,"h2":13.1429,"row":4,"d":9},{"h":13.1429,"h2":13.4286,"row":4,"d":8.8},{"h":13.5714,"h2":13.8571,"row":4,"d":8.7},{"h":13.8571,"h2":14.1429,"row":4,"d":8.3},{"h":14.1429,"h2":14.4286,"row":4,"d":8},{"h":14.5714,"h2":14.8571,"row":4,"d":7.7},{"h":14.8571,"h2":15.1429,"row":4,"d":7.2},{"h":15.1429,"h2":15.4286,"row":4,"d":6.5},
{"h":17.5714,"h2":17.8571,"row":4,"d":2.6},{"h":17.8571,"h2":18.1429,"row":4,"d":1.4},{"h":18.1429,"h2":18.4286,"row":4,"d":0.7},{"h":19.5714,"h2":19.8571,"row":4,"d":0.4},{"h":19.8571,"h2":20.1429,"row":4,"d":0.6},{"h":20.1429,"h2":20.4286,"row":4,"d":0.9},{"h":20.5714,"h2":20.8571,"row":4,"d":1},{"h":20.8571,"h2":21.1429,"row":4,"d":1.3},{"h":21.1429,"h2":21.4286,"row":4,"d":1.6},{"h":21.5714,"h2":21.8571,"row":4,"d":2},{"h":21.8571,"h2":22.1429,"row":4,"d":2.2},{"h":22.1429,"h2":22.4286,"row":4,"d":2.4},{"h":22.5714,"h2":22.8571,"row":4,"d":3},{"h":22.8571,"h2":23.1429,"row":4,"d":3.3},{"h":23.1429,"h2":23.4286,"row":4,"d":3.6},
{"h":25.5714,"h2":25.8571,"row":4,"d":7.6},{"h":25.8571,"h2":26.1429,"row":4,"d":7.9},{"h":26.1429,"h2":26.4286,"row":4,"d":8.2},{"h":26.5714,"h2":26.8571,"row":4,"d":8.2},{"h":26.8571,"h2":27.1429,"row":4,"d":8.6},{"h":27.1429,"h2":27.4286,"row":4,"d":9},{"h":27.5714,"h2":27.8571,"row":4,"d":9},{"h":27.8571,"h2":28.1429,"row":4,"d":9.3},{"h":28.1429,"h2":28.4286,"row":4,"d":9.5},{"h":28.5714,"h2":28.8571,"row":4,"d":9.5},{"h":28.8571,"h2":29.1429,"row":4,"d":9.7},{"h":29.1429,"h2":29.4286,"row":4,"d":9.9},
{"h":35.5714,"h2":35.8571,"row":4,"d":9.8},{"h":35.8571,"h2":36.1429,"row":4,"d":9.6},{"h":36.1429,"h2":36.4286,"row":4,"d":9.4},{"h":36.5714,"h2":36.8571,"row":4,"d":9.3},{"h":36.8571,"h2":37.1429,"row":4,"d":9},{"h":37.1429,"h2":37.4286,"row":4,"d":8.8},{"h":37.5714,"h2":37.8571,"row":4,"d":8.7},{"h":37.8571,"h2":38.1429,"row":4,"d":8.3},{"h":38.1429,"h2":38.4286,"row":4,"d":8},{"h":38.5714,"h2":38.8571,"row":4,"d":7.7},{"h":38.8571,"h2":39.1429,"row":4,"d":7.2},{"h":39.1429,"h2":39.4286,"row":4,"d":6.5},
{"h":41.5714,"h2":41.8571,"row":4,"d":2.6},{"h":41.8571,"h2":42.1429,"row":4,"d":1.4},{"h":42.1429,"h2":42.4286,"row":4,"d":0.7},{"h":43.5714,"h2":43.8571,"row":4,"d":0.4},{"h":43.8571,"h2":44.1429,"row":4,"d":0.6},{"h":44.1429,"h2":44.4286,"row":4,"d":0.9},{"h":44.5714,"h2":44.8571,"row":4,"d":1},{"h":44.8571,"h2":45.1429,"row":4,"d":1.3},{"h":45.1429,"h2":45.4286,"row":4,"d":1.6},{"h":45.5714,"h2":45.8571,"row":4,"d":2},{"h":45.8571,"h2":46.1429,"row":4,"d":2.2},{"h":46.1429,"h2":46.4286,"row":4,"d":2.4},{"h":46.5714,"h2":46.8571,"row":4,"d":3},{"h":46.8571,"h2":47.1429,"row":4,"d":3.3},{"h":47.1429,"h2":47.4286,"row":4,"d":3.6},
{"h":49.5714,"h2":49.8571,"row":4,"d":7.6},{"h":49.8571,"h2":50.1429,"row":4,"d":7.9},{"h":50.1429,"h2":50.4286,"row":4,"d":8.2},{"h":50.5714,"h2":50.8571,"row":4,"d":8.2},{"h":50.8571,"h2":51.1429,"row":4,"d":8.6},{"h":51.1429,"h2":51.4286,"row":4,"d":9},{"h":51.5714,"h2":51.8571,"row":4,"d":9},{"h":51.8571,"h2":52.1429,"row":4,"d":9.3},{"h":52.1429,"h2":52.4286,"row":4,"d":9.5},{"h":52.5714,"h2":52.8571,"row":4,"d":9.5},{"h":52.8571,"h2":53.1429,"row":4,"d":9.7},{"h":53.1429,"h2":53.4286,"row":4,"d":9.9},
{"h":59.5714,"h2":59.8571,"row":4,"d":9.8},{"h":59.8571,"h2":60.1429,"row":4,"d":9.6},{"h":60.1429,"h2":60.4286,"row":4,"d":9.4},{"h":60.5714,"h2":60.8571,"row":4,"d":9.3},{"h":60.8571,"h2":61.1429,"row":4,"d":9},{"h":61.1429,"h2":61.4286,"row":4,"d":8.8},{"h":61.5714,"h2":61.8571,"row":4,"d":8.7},{"h":61.8571,"h2":62.1429,"row":4,"d":8.3},{"h":62.1429,"h2":62.4286,"row":4,"d":8},{"h":62.5714,"h2":62.8571,"row":4,"d":7.7},{"h":62.8571,"h2":63.1429,"row":4,"d":7.2},{"h":63.1429,"h2":63.4286,"row":4,"d":6.5},
{"h":65.5714,"h2":65.8571,"row":4,"d":2.6},{"h":65.8571,"h2":66.1429,"row":4,"d":1.4},{"h":66.1429,"h2":66.4286,"row":4,"d":0.7},{"h":67.5714,"h2":67.8571,"row":4,"d":0.4},{"h":67.8571,"h2":68.1429,"row":4,"d":0.6},{"h":68.1429,"h2":68.4286,"row":4,"d":0.9},{"h":68.5714,"h2":68.8571,"row":4,"d":1},{"h":68.8571,"h2":69.1429,"row":4,"d":1.3},{"h":69.1429,"h2":69.4286,"row":4,"d":1.6},{"h":69.5714,"h2":69.8571,"row":4,"d":2},{"h":69.8571,"h2":70.1429,"row":4,"d":2.2},{"h":70.1429,"h2":70.4286,"row":4,"d":2.4},{"h":70.5714,"h2":70.8571,"row":4,"d":3},{"h":70.8571,"h2":71.1429,"row":4,"d":3.3},{"h":71.1429,"h2":71.4286,"row":4,"d":3.6},
{"h":73.5714,"h2":73.8571,"row":4,"d":7.6},{"h":73.8571,"h2":74.1429,"row":4,"d":7.9},{"h":74.1429,"h2":74.4286,"row":4,"d":8.2},{"h":74.5714,"h2":74.8571,"row":4,"d":8.2},{"h":74.8571,"h2":75.1429,"row":4,"d":8.6},{"h":75.1429,"h2":75.4286,"row":4,"d":9},{"h":75.5714,"h2":75.8571,"row":4,"d":9},{"h":75.8571,"h2":76.1429,"row":4,"d":9.3},{"h":76.1429,"h2":76.4286,"row":4,"d":9.5},{"h":76.5714,"h2":76.8571,"row":4,"d":9.5},{"h":76.8571,"h2":77.1429,"row":4,"d":9.7},{"h":77.1429,"h2":77.4286,"row":4,"d":9.9},
{"h":-0.4286,"h2":-0.1429,"row":18.25,"d":9.6},{"h":-0.1429,"h2":0.1429,"row":18.25,"d":8.5},{"h":0.1429,"h2":0.4286,"row":18.25,"d":7.6},{"h":1.5714,"h2":1.8571,"row":18.25,"d":1.6},{"h":1.8571,"h2":2.1429,"row":18.25,"d":0.6},{"h":2.1429,"h2":2.4286,"row":18.25,"d":0.3},{"h":2.5714,"h2":2.8571,"row":18.25,"d":0.4},{"h":2.8571,"h2":3.1429,"row":18.25,"d":0.9},{"h":3.1429,"h2":3.4286,"row":18.25,"d":1.5},{"h":4.5714,"h2":4.8571,"row":18.25,"d":8},{"h":4.8571,"h2":5.1429,"row":18.25,"d":8.8},{"h":5.1429,"h2":5.4286,"row":18.25,"d":9.5},
{"h":7.5714,"h2":7.8571,"row":18.25,"d":9.6},{"h":7.8571,"h2":8.1429,"row":18.25,"d":8.5},{"h":8.1429,"h2":8.4286,"row":18.25,"d":7.6},{"h":9.5714,"h2":9.8571,"row":18.25,"d":1.6},{"h":9.8571,"h2":10.1429,"row":18.25,"d":0.6},{"h":10.1429,"h2":10.4286,"row":18.25,"d":0.3},{"h":10.5714,"h2":10.8571,"row":18.25,"d":0.4},{"h":10.8571,"h2":11.1429,"row":18.25,"d":0.9},{"h":11.1429,"h2":11.4286,"row":18.25,"d":1.5},{"h":12.5714,"h2":12.8571,"row":18.25,"d":8},{"h":12.8571,"h2":13.1429,"row":18.25,"d":8.8},{"h":13.1429,"h2":13.4286,"row":18.25,"d":9.5},
{"h":15.5714,"h2":15.8571,"row":18.25,"d":9.6},{"h":15.8571,"h2":16.1429,"row":18.25,"d":8.5},{"h":16.1429,"h2":16.4286,"row":18.25,"d":7.6},{"h":17.5714,"h2":17.8571,"row":18.25,"d":1.6},{"h":17.8571,"h2":18.1429,"row":18.25,"d":0.6},{"h":18.1429,"h2":18.4286,"row":18.25,"d":0.3},{"h":18.5714,"h2":18.8571,"row":18.25,"d":0.4},{"h":18.8571,"h2":19.1429,"row":18.25,"d":0.9},{"h":19.1429,"h2":19.4286,"row":18.25,"d":1.5},{"h":20.5714,"h2":20.8571,"row":18.25,"d":8},{"h":20.8571,"h2":21.1429,"row":18.25,"d":8.8},{"h":21.1429,"h2":21.4286,"row":18.25,"d":9.5},
{"h":23.5714,"h2":23.8571,"row":18.25,"d":9.6},{"h":23.8571,"h2":24.1429,"row":18.25,"d":8.5},{"h":24.1429,"h2":24.4286,"row":18.25,"d":7.6},{"h":25.5714,"h2":25.8571,"row":18.25,"d":1.6},{"h":25.8571,"h2":26.1429,"row":18.25,"d":0.6},{"h":26.1429,"h2":26.4286,"row":18.25,"d":0.3},{"h":26.5714,"h2":26.8571,"row":18.25,"d":0.4},{"h":26.8571,"h2":27.1429,"row":18.25,"d":0.9},{"h":27.1429,"h2":27.4286,"row":18.25,"d":1.5},{"h":28.5714,"h2":28.8571,"row":18.25,"d":8},{"h":28.8571,"h2":29.1429,"row":18.25,"d":8.8},{"h":29.1429,"h2":29.4286,"row":18.25,"d":9.5},
{"h":31.5714,"h2":31.8571,"row":18.25,"d":9.6},{"h":31.8571,"h2":32.1429,"row":18.25,"d":8.5},{"h":32.1429,"h2":32.4286,"row":18.25,"d":7.6},{"h":33.5714,"h2":33.8571,"row":18.25,"d":1.6},{"h":33.8571,"h2":34.1429,"row":18.25,"d":0.6},{"h":34.1429,"h2":34.4286,"row":18.25,"d":0.3},{"h":34.5714,"h2":34.8571,"row":18.25,"d":0.4},{"h":34.8571,"h2":35.1429,"row":18.25,"d":0.9},{"h":35.1429,"h2":35.4286,"row":18.25,"d":1.5},{"h":36.5714,"h2":36.8571,"row":18.25,"d":8},{"h":36.8571,"h2":37.1429,"row":18.25,"d":8.8},{"h":37.1429,"h2":37.4286,"row":18.25,"d":9.5},
{"h":39.5714,"h2":39.8571,"row":18.25,"d":9.6},{"h":39.8571,"h2":40.1429,"row":18.25,"d":8.5},{"h":40.1429,"h2":40.4286,"row":18.25,"d":7.6},{"h":41.5714,"h2":41.8571,"row":18.25,"d":1.6},{"h":41.8571,"h2":42.1429,"row":18.25,"d":0.6},{"h":42.1429,"h2":42.4286,"row":18.25,"d":0.3},{"h":42.5714,"h2":42.8571,"row":18.25,"d":0.4},{"h":42.8571,"h2":43.1429,"row":18.25,"d":0.9},{"h":43.1429,"h2":43.4286,"row":18.25,"d":1.5},{"h":44.5714,"h2":44.8571,"row":18.25,"d":8},{"h":44.8571,"h2":45.1429,"row":18.25,"d":8.8},{"h":45.1429,"h2":45.4286,"row":18.25,"d":9.5},
{"h":0.5714,"h2":0.7143,"row":4,"d":4.3},{"h":0.7143,"h2":0.7857,"row":4,"d":5},{"h":0.7857,"h2":0.9286,"row":4,"d":6},{"h":0.9286,"h2":1.1429,"row":4,"d":6.6},{"h":1.1429,"h2":1.4286,"row":4,"d":7.3},
{"h":24.5714,"h2":24.7143,"row":4,"d":4.3},{"h":24.7143,"h2":24.7857,"row":4,"d":5},{"h":24.7857,"h2":24.9286,"row":4,"d":6},{"h":24.9286,"h2":25.1429,"row":4,"d":6.6},{"h":25.1429,"h2":25.4286,"row":4,"d":7.3},
{"h":48.5714,"h2":48.7143,"row":4,"d":4.3},{"h":48.7143,"h2":48.7857,"row":4,"d":5},{"h":48.7857,"h2":48.9286,"row":4,"d":6},{"h":48.9286,"h2":49.1429,"row":4,"d":6.6},{"h":49.1429,"h2":49.4286,"row":4,"d":7.3},
{"h":72.5714,"h2":72.7143,"row":4,"d":4.3},{"h":72.7143,"h2":72.7857,"row":4,"d":5},{"h":72.7857,"h2":72.9286,"row":4,"d":6},{"h":72.9286,"h2":73.1429,"row":4,"d":6.6},{"h":73.1429,"h2":73.4286,"row":4,"d":7.3},
{"h":15.5714,"h2":15.6429,"row":4,"d":6.2},{"h":15.6429,"h2":15.7857,"row":4,"d":5},{"h":15.7857,"h2":16.4286,"row":4,"d":3.4},
{"h":39.5714,"h2":39.6429,"row":4,"d":6.2},{"h":39.6429,"h2":39.7857,"row":4,"d":5},{"h":39.7857,"h2":40.4286,"row":4,"d":3.4},
{"h":63.5714,"h2":63.6429,"row":4,"d":6.2},{"h":63.6429,"h2":63.7857,"row":4,"d":5},{"h":63.7857,"h2":64.4286,"row":4,"d":3.4},
{"h":0.5714,"h2":0.7143,"row":18.25,"d":7.5},{"h":0.7143,"h2":1,"row":18.25,"d":6},{"h":1,"h2":1.4286,"row":18.25,"d":3.2},{"h":3.5714,"h2":4,"row":18.25,"d":3.3},{"h":4,"h2":4.2143,"row":18.25,"d":6},{"h":4.2143,"h2":4.4286,"row":18.25,"d":7.2},
{"h":8.5714,"h2":8.7143,"row":18.25,"d":7.5},{"h":8.7143,"h2":9,"row":18.25,"d":6},{"h":9,"h2":9.4286,"row":18.25,"d":3.2},{"h":11.5714,"h2":12,"row":18.25,"d":3.3},{"h":12,"h2":12.2143,"row":18.25,"d":6},{"h":12.2143,"h2":12.4286,"row":18.25,"d":7.2},
{"h":16.5714,"h2":16.7143,"row":18.25,"d":7.5},{"h":16.7143,"h2":17,"row":18.25,"d":6},{"h":17,"h2":17.4286,"row":18.25,"d":3.2},{"h":19.5714,"h2":20,"row":18.25,"d":3.3},{"h":20,"h2":20.2143,"row":18.25,"d":6},{"h":20.2143,"h2":20.4286,"row":18.25,"d":7.2},
{"h":24.5714,"h2":24.7143,"row":18.25,"d":7.5},{"h":24.7143,"h2":25,"row":18.25,"d":6},{"h":25,"h2":25.4286,"row":18.25,"d":3.2},{"h":27.5714,"h2":28,"row":18.25,"d":3.3},{"h":28,"h2":28.2143,"row":18.25,"d":6},{"h":28.2143,"h2":28.4286,"row":18.25,"d":7.2},
{"h":32.5714,"h2":32.7143,"row":18.25,"d":7.5},{"h":32.7143,"h2":33,"row":18.25,"d":6},{"h":33,"h2":33.4286,"row":18.25,"d":3.2},{"h":35.5714,"h2":36,"row":18.25,"d":3.3},{"h":36,"h2":36.2143,"row":18.25,"d":6},{"h":36.2143,"h2":36.4286,"row":18.25,"d":7.2},
{"h":40.5714,"h2":40.7143,"row":18.25,"d":7.5},{"h":40.7143,"h2":41,"row":18.25,"d":6},{"h":41,"h2":41.4286,"row":18.25,"d":3.2},{"h":43.5714,"h2":44,"row":18.25,"d":3.3},{"h":44,"h2":44.2143,"row":18.25,"d":6},{"h":44.2143,"h2":44.4286,"row":18.25,"d":7.2}
],
"midnights":[
{"h":18.5714,"row":-0.4375,"row2":10.375,"lv":"R"},{"h":42.5714,"row":-0.4375,"row2":10.375,"lv":"R"},{"h":66.5714,"row":-0.4375,"row2":10.375,"lv":"R"},
{"h":2.5714,"row":15.875,"row2":18.625,"lv":"R"},{"h":10.5714,"row":15.875,"row2":18.625,"lv":"R"},{"h":18.5714,"row":15.875,"row2":18.625,"lv":"R"},{"h":26.5714,"row":15.875,"row2":18.625,"lv":"R"},{"h":34.5714,"row":15.875,"row2":18.625,"lv":"R"},{"h":42.5714,"row":15.875,"row2":18.625,"lv":"R"}
],
"strips":[
{"h":-9.5714,"row":-0.375,"row2":4.4375,"lv":"S"},{"h":-9.5714,"row":6.625,"row2":10.4375,"lv":"G"},{"h":-9.5714,"row":15.875,"row2":18.6875,"lv":"S"}
],
"bands":[
{"h":-9,"h2":-1.9286,"row":3.906,"lv":"K"},{"h":-9,"h2":-1.2857,"row":18.156,"lv":"K"},
{"h":45.3571,"h2":57.2143,"row":20.84,"lv":"o"},{"h":45.3571,"h2":45.8571,"row":20.84,"lv":"R"},{"h":46.7857,"h2":47.2857,"row":20.84,"lv":"R"}
],
"leaf":[{"h":46.32,"row":20.84,"lv":"R"}],
"stripText":[
{"h":-9.5714,"row":2.03,"label":"--\u00a0\u00a0Sky\u00a0\u00a0--","lv":"yel"},{"h":-9.5714,"row":8.5,"label":"-\u00a0Ground\u00a0-","lv":"wht"},{"h":-9.5714,"row":17.28,"label":"-\u00a0Sky\u00a0-","lv":"yel"}
],
"titles":[
{"h":16.1429,"row":-4.4375,"label":"Warbler's Hideaway Observatory","lv":"yel"},{"h":42.7143,"row":-4.4375,"label":"Clear Sky Chart","lv":"cya"}
],
"gmt":[
{"h":-9.7857,"row":-1.3125,"label":"(GMT -4+0)","lv":"yel"},{"h":-9.7857,"row":14.92,"label":"(GMT -4+0)","lv":"yel"}
],
"logoText":[
{"h":48.2857,"row":20.6,"label":"Environment","lv":"blk"},{"h":48.2857,"row":21.06,"label":"Canada","lv":"blk"},{"h":52.9286,"row":20.6,"label":"Environnement","lv":"blk"},{"h":52.9286,"row":21.06,"label":"Canada","lv":"blk"}
],
"labels":[
{"h":-9.857,"row":-3,"label":"2026-07-05","lv":"grn"},{"h":-9.857,"row":-2.0625,"label":"Local Time","lv":"ola"},
{"h":4.5714,"row":-3,"label":"Sunday, 5","lv":"grn"},{"h":28.5714,"row":-3,"label":"Monday, 6","lv":"yel"},{"h":52.5714,"row":-3,"label":"Tuesday, 7","lv":"sal"},{"h":74,"row":-3,"label":"Wednesday, 8","lv":"mag"},
{"h":-9,"row":-0.0625,"label":"Cloud Cover:","lv":"wht"},{"h":-9,"row":0.9375,"label":"ECMWF Cloud:","lv":"wht"},{"h":-9,"row":1.9375,"label":"Transparency:","lv":"wht"},{"h":-9,"row":2.9375,"label":"Seeing:","lv":"wht"},{"h":-9,"row":3.9375,"label":"Darkness:","lv":"blu"},
{"h":-9,"row":6.9375,"label":"Smoke:","lv":"wht"},{"h":-9,"row":7.9375,"label":"Wind:","lv":"wht"},{"h":-9,"row":8.9375,"label":"Humidity:","lv":"wht"},{"h":-9,"row":9.9375,"label":"Temperature:","lv":"wht"},
{"h":-10,"row":12.0625,"label":"EXTENDED Forecast. Each block is 3 hours. (A sponsored feature)","lv":"red"},
{"h":-9.857,"row":13.25,"label":"2026-07-08","lv":"mag"},{"h":-9.857,"row":14.1875,"label":"Local Time","lv":"ola"},
{"h":-0.4286,"row":13.25,"label":"We","lv":"mag"},{"h":5.2143,"row":13.25,"label":"Thu, 9","lv":"per"},{"h":13.2143,"row":13.25,"label":"Fri, 10","lv":"grn"},{"h":21.2143,"row":13.25,"label":"Sat, 11","lv":"yel"},{"h":29.2143,"row":13.25,"label":"Sun, 12","lv":"sal"},{"h":37.2143,"row":13.25,"label":"Mon, 13","lv":"mag"},{"h":43.2143,"row":13.25,"label":"Tue, 14","lv":"per"},
{"h":-9,"row":16.125,"label":"Cloud Cover:","lv":"wht"},{"h":-9,"row":17.125,"label":"ECMWF Cloud:","lv":"wht"},{"h":-9,"row":18.125,"label":"Darkness:","lv":"blu"},
{"h":14.4286,"row":20.86,"label":"© 2026 Attilla Danko\u00a0\u00a0forecast: A.Rahill\u00a0\u00a0data:","lv":"wht"}
],
"hourLabels":[
{"h":0,"row":-1.125,"digit":"5","lv":"grn"},{"h":1,"row":-1.125,"digit":"6","lv":"grn"},{"h":2,"row":-1.125,"digit":"7","lv":"grn"},{"h":3,"row":-1.125,"digit":"8","lv":"grn"},{"h":4,"row":-1.125,"digit":"9","lv":"grn"},{"h":5,"row":-1.125,"digit":"0","lv":"grn"},{"h":6,"row":-1.125,"digit":"1","lv":"grn"},{"h":7,"row":-1.125,"digit":"2","lv":"grn"},{"h":8,"row":-1.125,"digit":"3","lv":"grn"},{"h":9,"row":-1.125,"digit":"4","lv":"grn"},{"h":10,"row":-1.125,"digit":"5","lv":"grn"},{"h":11,"row":-1.125,"digit":"6","lv":"grn"},{"h":12,"row":-1.125,"digit":"7","lv":"grn"},{"h":13,"row":-1.125,"digit":"8","lv":"grn"},{"h":14,"row":-1.125,"digit":"9","lv":"grn"},{"h":15,"row":-1.125,"digit":"0","lv":"grn"},{"h":16,"row":-1.125,"digit":"1","lv":"grn"},{"h":17,"row":-1.125,"digit":"2","lv":"grn"},{"h":18,"row":-1.125,"digit":"3","lv":"grn"},
{"h":19,"row":-1.125,"digit":"0","lv":"yel"},{"h":20,"row":-1.125,"digit":"1","lv":"yel"},{"h":21,"row":-1.125,"digit":"2","lv":"yel"},{"h":22,"row":-1.125,"digit":"3","lv":"yel"},{"h":23,"row":-1.125,"digit":"4","lv":"yel"},{"h":24,"row":-1.125,"digit":"5","lv":"yel"},{"h":25,"row":-1.125,"digit":"6","lv":"yel"},{"h":26,"row":-1.125,"digit":"7","lv":"yel"},{"h":27,"row":-1.125,"digit":"8","lv":"yel"},{"h":28,"row":-1.125,"digit":"9","lv":"yel"},{"h":29,"row":-1.125,"digit":"0","lv":"yel"},{"h":30,"row":-1.125,"digit":"1","lv":"yel"},{"h":31,"row":-1.125,"digit":"2","lv":"yel"},{"h":32,"row":-1.125,"digit":"3","lv":"yel"},{"h":33,"row":-1.125,"digit":"4","lv":"yel"},{"h":34,"row":-1.125,"digit":"5","lv":"yel"},{"h":35,"row":-1.125,"digit":"6","lv":"yel"},{"h":36,"row":-1.125,"digit":"7","lv":"yel"},{"h":37,"row":-1.125,"digit":"8","lv":"yel"},{"h":38,"row":-1.125,"digit":"9","lv":"yel"},{"h":39,"row":-1.125,"digit":"0","lv":"yel"},{"h":40,"row":-1.125,"digit":"1","lv":"yel"},{"h":41,"row":-1.125,"digit":"2","lv":"yel"},{"h":42,"row":-1.125,"digit":"3","lv":"yel"},
{"h":43,"row":-1.125,"digit":"0","lv":"sal"},{"h":44,"row":-1.125,"digit":"1","lv":"sal"},{"h":45,"row":-1.125,"digit":"2","lv":"sal"},{"h":46,"row":-1.125,"digit":"3","lv":"sal"},{"h":47,"row":-1.125,"digit":"4","lv":"sal"},{"h":48,"row":-1.125,"digit":"5","lv":"sal"},{"h":49,"row":-1.125,"digit":"6","lv":"sal"},{"h":50,"row":-1.125,"digit":"7","lv":"sal"},{"h":51,"row":-1.125,"digit":"8","lv":"sal"},{"h":52,"row":-1.125,"digit":"9","lv":"sal"},{"h":53,"row":-1.125,"digit":"0","lv":"sal"},{"h":54,"row":-1.125,"digit":"1","lv":"sal"},{"h":55,"row":-1.125,"digit":"2","lv":"sal"},{"h":56,"row":-1.125,"digit":"3","lv":"sal"},{"h":57,"row":-1.125,"digit":"4","lv":"sal"},{"h":58,"row":-1.125,"digit":"5","lv":"sal"},{"h":59,"row":-1.125,"digit":"6","lv":"sal"},{"h":60,"row":-1.125,"digit":"7","lv":"sal"},{"h":61,"row":-1.125,"digit":"8","lv":"sal"},{"h":62,"row":-1.125,"digit":"9","lv":"sal"},{"h":63,"row":-1.125,"digit":"0","lv":"sal"},{"h":64,"row":-1.125,"digit":"1","lv":"sal"},{"h":65,"row":-1.125,"digit":"2","lv":"sal"},{"h":66,"row":-1.125,"digit":"3","lv":"sal"},
{"h":67,"row":-1.125,"digit":"0","lv":"mag"},{"h":68,"row":-1.125,"digit":"1","lv":"mag"},{"h":69,"row":-1.125,"digit":"2","lv":"mag"},{"h":70,"row":-1.125,"digit":"3","lv":"mag"},{"h":71,"row":-1.125,"digit":"4","lv":"mag"},{"h":72,"row":-1.125,"digit":"5","lv":"mag"},{"h":73,"row":-1.125,"digit":"6","lv":"mag"},{"h":74,"row":-1.125,"digit":"7","lv":"mag"},{"h":75,"row":-1.125,"digit":"8","lv":"mag"},{"h":76,"row":-1.125,"digit":"9","lv":"mag"},{"h":77,"row":-1.125,"digit":"0","lv":"mag"},{"h":78,"row":-1.125,"digit":"1","lv":"mag"},{"h":79,"row":-1.125,"digit":"2","lv":"mag"},{"h":80,"row":-1.125,"digit":"3","lv":"mag"},{"h":81,"row":-1.125,"digit":"4","lv":"mag"},
{"h":5,"row":-2.0625,"digit":"1","lv":"grn"},{"h":6,"row":-2.0625,"digit":"1","lv":"grn"},{"h":7,"row":-2.0625,"digit":"1","lv":"grn"},{"h":8,"row":-2.0625,"digit":"1","lv":"grn"},{"h":9,"row":-2.0625,"digit":"1","lv":"grn"},{"h":10,"row":-2.0625,"digit":"1","lv":"grn"},{"h":11,"row":-2.0625,"digit":"1","lv":"grn"},{"h":12,"row":-2.0625,"digit":"1","lv":"grn"},{"h":13,"row":-2.0625,"digit":"1","lv":"grn"},{"h":14,"row":-2.0625,"digit":"1","lv":"grn"},{"h":15,"row":-2.0625,"digit":"2","lv":"grn"},{"h":16,"row":-2.0625,"digit":"2","lv":"grn"},{"h":17,"row":-2.0625,"digit":"2","lv":"grn"},{"h":18,"row":-2.0625,"digit":"2","lv":"grn"},
{"h":29,"row":-2.0625,"digit":"1","lv":"yel"},{"h":30,"row":-2.0625,"digit":"1","lv":"yel"},{"h":31,"row":-2.0625,"digit":"1","lv":"yel"},{"h":32,"row":-2.0625,"digit":"1","lv":"yel"},{"h":33,"row":-2.0625,"digit":"1","lv":"yel"},{"h":34,"row":-2.0625,"digit":"1","lv":"yel"},{"h":35,"row":-2.0625,"digit":"1","lv":"yel"},{"h":36,"row":-2.0625,"digit":"1","lv":"yel"},{"h":37,"row":-2.0625,"digit":"1","lv":"yel"},{"h":38,"row":-2.0625,"digit":"1","lv":"yel"},{"h":39,"row":-2.0625,"digit":"2","lv":"yel"},{"h":40,"row":-2.0625,"digit":"2","lv":"yel"},{"h":41,"row":-2.0625,"digit":"2","lv":"yel"},{"h":42,"row":-2.0625,"digit":"2","lv":"yel"},
{"h":53,"row":-2.0625,"digit":"1","lv":"sal"},{"h":54,"row":-2.0625,"digit":"1","lv":"sal"},{"h":55,"row":-2.0625,"digit":"1","lv":"sal"},{"h":56,"row":-2.0625,"digit":"1","lv":"sal"},{"h":57,"row":-2.0625,"digit":"1","lv":"sal"},{"h":58,"row":-2.0625,"digit":"1","lv":"sal"},{"h":59,"row":-2.0625,"digit":"1","lv":"sal"},{"h":60,"row":-2.0625,"digit":"1","lv":"sal"},{"h":61,"row":-2.0625,"digit":"1","lv":"sal"},{"h":62,"row":-2.0625,"digit":"1","lv":"sal"},{"h":63,"row":-2.0625,"digit":"2","lv":"sal"},{"h":64,"row":-2.0625,"digit":"2","lv":"sal"},{"h":65,"row":-2.0625,"digit":"2","lv":"sal"},{"h":66,"row":-2.0625,"digit":"2","lv":"sal"},
{"h":77,"row":-2.0625,"digit":"1","lv":"mag"},{"h":78,"row":-2.0625,"digit":"1","lv":"mag"},{"h":79,"row":-2.0625,"digit":"1","lv":"mag"},{"h":80,"row":-2.0625,"digit":"1","lv":"mag"},{"h":81,"row":-2.0625,"digit":"1","lv":"mag"},
{"h":0,"row":15.125,"digit":"7","lv":"mag"},{"h":1,"row":15.125,"digit":"0","lv":"mag"},{"h":2,"row":15.125,"digit":"3","lv":"mag"},
{"h":3,"row":15.125,"digit":"2","lv":"per"},{"h":4,"row":15.125,"digit":"5","lv":"per"},{"h":5,"row":15.125,"digit":"8","lv":"per"},{"h":6,"row":15.125,"digit":"1","lv":"per"},{"h":7,"row":15.125,"digit":"4","lv":"per"},{"h":8,"row":15.125,"digit":"7","lv":"per"},{"h":9,"row":15.125,"digit":"0","lv":"per"},{"h":10,"row":15.125,"digit":"3","lv":"per"},
{"h":11,"row":15.125,"digit":"2","lv":"grn"},{"h":12,"row":15.125,"digit":"5","lv":"grn"},{"h":13,"row":15.125,"digit":"8","lv":"grn"},{"h":14,"row":15.125,"digit":"1","lv":"grn"},{"h":15,"row":15.125,"digit":"4","lv":"grn"},{"h":16,"row":15.125,"digit":"7","lv":"grn"},{"h":17,"row":15.125,"digit":"0","lv":"grn"},{"h":18,"row":15.125,"digit":"3","lv":"grn"},
{"h":19,"row":15.125,"digit":"2","lv":"yel"},{"h":20,"row":15.125,"digit":"5","lv":"yel"},{"h":21,"row":15.125,"digit":"8","lv":"yel"},{"h":22,"row":15.125,"digit":"1","lv":"yel"},{"h":23,"row":15.125,"digit":"4","lv":"yel"},{"h":24,"row":15.125,"digit":"7","lv":"yel"},{"h":25,"row":15.125,"digit":"0","lv":"yel"},{"h":26,"row":15.125,"digit":"3","lv":"yel"},
{"h":27,"row":15.125,"digit":"2","lv":"sal"},{"h":28,"row":15.125,"digit":"5","lv":"sal"},{"h":29,"row":15.125,"digit":"8","lv":"sal"},{"h":30,"row":15.125,"digit":"1","lv":"sal"},{"h":31,"row":15.125,"digit":"4","lv":"sal"},{"h":32,"row":15.125,"digit":"7","lv":"sal"},{"h":33,"row":15.125,"digit":"0","lv":"sal"},{"h":34,"row":15.125,"digit":"3","lv":"sal"},
{"h":35,"row":15.125,"digit":"2","lv":"mag"},{"h":36,"row":15.125,"digit":"5","lv":"mag"},{"h":37,"row":15.125,"digit":"8","lv":"mag"},{"h":38,"row":15.125,"digit":"1","lv":"mag"},{"h":39,"row":15.125,"digit":"4","lv":"mag"},{"h":40,"row":15.125,"digit":"7","lv":"mag"},{"h":41,"row":15.125,"digit":"0","lv":"mag"},{"h":42,"row":15.125,"digit":"3","lv":"mag"},
{"h":43,"row":15.125,"digit":"2","lv":"per"},{"h":44,"row":15.125,"digit":"5","lv":"per"},{"h":45,"row":15.125,"digit":"8","lv":"per"},{"h":46,"row":15.125,"digit":"1","lv":"per"},{"h":47,"row":15.125,"digit":"4","lv":"per"},
{"h":0,"row":14.1875,"digit":"1","lv":"mag"},{"h":1,"row":14.1875,"digit":"2","lv":"mag"},{"h":2,"row":14.1875,"digit":"2","lv":"mag"},
{"h":6,"row":14.1875,"digit":"1","lv":"per"},{"h":7,"row":14.1875,"digit":"1","lv":"per"},{"h":8,"row":14.1875,"digit":"1","lv":"per"},{"h":9,"row":14.1875,"digit":"2","lv":"per"},{"h":10,"row":14.1875,"digit":"2","lv":"per"},
{"h":14,"row":14.1875,"digit":"1","lv":"grn"},{"h":15,"row":14.1875,"digit":"1","lv":"grn"},{"h":16,"row":14.1875,"digit":"1","lv":"grn"},{"h":17,"row":14.1875,"digit":"2","lv":"grn"},{"h":18,"row":14.1875,"digit":"2","lv":"grn"},
{"h":22,"row":14.1875,"digit":"1","lv":"yel"},{"h":23,"row":14.1875,"digit":"1","lv":"yel"},{"h":24,"row":14.1875,"digit":"1","lv":"yel"},{"h":25,"row":14.1875,"digit":"2","lv":"yel"},{"h":26,"row":14.1875,"digit":"2","lv":"yel"},
{"h":30,"row":14.1875,"digit":"1","lv":"sal"},{"h":31,"row":14.1875,"digit":"1","lv":"sal"},{"h":32,"row":14.1875,"digit":"1","lv":"sal"},{"h":33,"row":14.1875,"digit":"2","lv":"sal"},{"h":34,"row":14.1875,"digit":"2","lv":"sal"},
{"h":38,"row":14.1875,"digit":"1","lv":"mag"},{"h":39,"row":14.1875,"digit":"1","lv":"mag"},{"h":40,"row":14.1875,"digit":"1","lv":"mag"},{"h":41,"row":14.1875,"digit":"2","lv":"mag"},{"h":42,"row":14.1875,"digit":"2","lv":"mag"},
{"h":46,"row":14.1875,"digit":"1","lv":"per"},{"h":47,"row":14.1875,"digit":"1","lv":"per"}
]
},
"encoding":{
"x":{"field":"h","type":"quantitative","scale":{"domain":[-10,81.7142857],"nice":false,"zero":false}},
"y":{"field":"row","type":"quantitative","scale":{"domain":[21.3125,-5.1875],"nice":false,"zero":false}}
},
"layer":[
{"data":{"name":"strips"},"mark":{"type":"rule","strokeWidth":12},"encoding":{"y2":{"field":"row2"},"color":{"field":"lv","type":"nominal","scale":{
"domain":["a","b","c","d","e","f","g","h","i","j","k","l","m","n","o","p","q","r","s","t","u","v","w","x","A","B","C","D","E","F","R","S","G","K","grn","yel","sal","mag","per","ola","wht","red","cya","blu","blk"],
"range":["#003e7e","#0c4c8e","#1f5fa0","#2c6cac","#4c8ccf","#5e9de2","#74b2f8","#80bebe","#95d2d2","#aeeeee","#b4ffff","#c0c0c0","#e8e8e8","#f8f8f8","#ffffff","#ffc800","#eaff14","#9cff64","#55ffb0","#00ffe8","#ff8800","#ff3300","#ee0000","#b80000","#ff9c00","#ff5500","#ff2000","#ffdd00","#9cff50","#e00000","#ff0000","#0a62e8","#4f6800","#808080","#66ff66","#ffff00","#ff7070","#ff00ff","#7070ff","#cccc00","#ffffff","#ee0000","#00c8c8","#1f5fd8","#000000"]}}}},
{"data":{"name":"bands"},"mark":{"type":"rule","strokeWidth":15},"encoding":{"x2":{"field":"h2"},"color":{"field":"lv","type":"nominal"}}},
{"data":{"name":"leaf"},"mark":{"type":"point","filled":true,"opacity":1,"size":90,"shape":"M0,-1 L.2,-.6 L.45,-.7 L.35,-.2 L.8,-.35 L.7,-.1 L1,.1 L.5,.4 L.55,.6 L.08,.5 L.08,.9 L-.08,.9 L-.08,.5 L-.55,.6 L-.5,.4 L-1,.1 L-.7,-.1 L-.8,-.35 L-.35,-.2 L-.45,-.7 L-.2,-.6 Z"},"encoding":{"color":{"field":"lv","type":"nominal"}}},
{"data":{"name":"blocks"},"mark":{"type":"rule","strokeWidth":8},"encoding":{"x2":{"field":"h2"},"color":{"field":"lv","type":"nominal"}}},
{"data":{"name":"cells"},"mark":{"type":"square","size":144,"opacity":1,"filled":true},"encoding":{"color":{"field":"lv","type":"nominal"}}},
{"data":{"name":"darkSolid"},"mark":{"type":"square","size":144,"opacity":1,"filled":true},"encoding":{"fill":{"field":"d","type":"quantitative","scale":{"domain":[0,1,2,3,4,5,6,7,8,9,10],"range":["#00004a","#000090","#0000c8","#0040d0","#0070e8","#00f0ff","#ffa428","#ffc880","#ffe4c0","#fff3e2","#ffffff"],"interpolate":"rgb","nice":false,"zero":false}}}},
{"data":{"name":"darkSpans"},"mark":{"type":"rule","strokeWidth":12},"encoding":{"x2":{"field":"h2"},"stroke":{"field":"d","type":"quantitative","scale":{"domain":[0,1,2,3,4,5,6,7,8,9,10],"range":["#00004a","#000090","#0000c8","#0040d0","#0070e8","#00f0ff","#ffa428","#ffc880","#ffe4c0","#fff3e2","#ffffff"],"interpolate":"rgb","nice":false,"zero":false}}}},
{"data":{"name":"midnights"},"mark":{"type":"rule","strokeWidth":2},"encoding":{"y2":{"field":"row2"},"color":{"field":"lv","type":"nominal"}}},
{"data":{"name":"labels"},"mark":{"type":"text","font":"Liberation Mono","fontSize":15,"align":"left","baseline":"middle","dy":-1},"encoding":{"text":{"field":"label"},"color":{"field":"lv","type":"nominal"}}},
{"data":{"name":"hourLabels"},"mark":{"type":"text","font":"Liberation Mono","fontSize":15,"align":"center","baseline":"middle","dy":-1},"encoding":{"text":{"field":"digit"},"color":{"field":"lv","type":"nominal"}}},
{"data":{"name":"titles"},"mark":{"type":"text","font":"Liberation Mono","fontWeight":"bold","fontSize":20,"align":"left","baseline":"middle"},"encoding":{"text":{"field":"label"},"color":{"field":"lv","type":"nominal"}}},
{"data":{"name":"gmt"},"mark":{"type":"text","font":"Liberation Mono","fontSize":7.8,"align":"left","baseline":"middle"},"encoding":{"text":{"field":"label"},"color":{"field":"lv","type":"nominal"}}},
{"data":{"name":"logoText"},"mark":{"type":"text","font":"Liberation Mono","fontSize":7.7,"align":"left","baseline":"middle"},"encoding":{"text":{"field":"label"},"color":{"field":"lv","type":"nominal"}}},
{"data":{"name":"stripText"},"mark":{"type":"text","font":"Liberation Mono","fontSize":10,"angle":270,"align":"center","baseline":"middle"},"encoding":{"text":{"field":"label"},"color":{"field":"lv","type":"nominal"}}}
]
}
